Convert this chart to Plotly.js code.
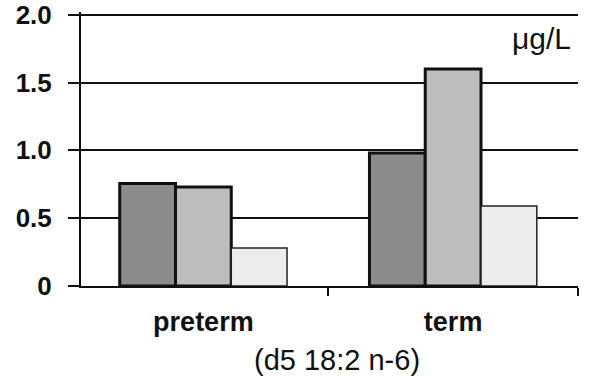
<!DOCTYPE html>
<html>
<head>
<meta charset="utf-8">
<script src="https://cdn.plot.ly/plotly-3.0.1.min.js"></script>
<style>html,body{margin:0;padding:0;background:#fff;}#chart{width:600px;height:377px;}</style>
</head>
<body>
<div id="chart"></div>
<script>
const categories = ["preterm", "term"];
const seriesDark = [0.755, 0.98];
const seriesMid = [0.73, 1.60];
const seriesLight = [0.28, 0.59];
const yTickVals = [0, 0.5, 1.0, 1.5, 2.0];
const yTickText = ["0", "0.5", "1.0", "1.5", "2.0"];
const unitLabel = "μg/L";
const xTitle = "(d5 18:2 n-6)";

const FONT = "Liberation Sans, Arial, sans-serif";

const traces = [
  {type: "bar", x: categories, y: seriesDark, marker: {color: "#8c8c8c", line: {color: "#111", width: 3}}, hoverinfo: "none"},
  {type: "bar", x: categories, y: seriesMid, marker: {color: "#bdbdbd", line: {color: "#111", width: 3}}, hoverinfo: "none"},
  {type: "bar", x: categories, y: seriesLight, marker: {color: "#ececec", line: {color: "#222", width: 1.5}}, hoverinfo: "none"}
];

const layout = {
  width: 600, height: 377,
  margin: {l: 81, r: 22, t: 12, b: 91},
  paper_bgcolor: "#fff", plot_bgcolor: "#fff",
  showlegend: false,
  barmode: "group", bargap: 0.33, bargroupgap: 0,
  font: {family: FONT, color: "#111"},
  xaxis: {
    type: "category", range: [-0.49, 1.5],
    showline: true, linecolor: "#111", linewidth: 2,
    ticks: "outside", tickson: "boundaries", ticklen: 8, tickwidth: 2, tickcolor: "#111",
    ticklabelstandoff: 11,
    tickfont: {family: FONT, size: 27, color: "#111", weight: "bold"},
    showgrid: false, zeroline: false
  },
  yaxis: {
    range: [0, 2.02],
    tickvals: yTickVals, ticktext: yTickText,
    ticklabeloverflow: "allow",
    showline: true, linecolor: "#111", linewidth: 2,
    ticks: "outside", ticklen: 11, tickwidth: 2, tickcolor: "#111",
    ticklabelstandoff: 11,
    tickfont: {family: FONT, size: 26, color: "#111", weight: "bold"},
    showgrid: true, gridcolor: "#111", gridwidth: 2, zeroline: false
  },
  annotations: [
    {text: unitLabel, xref: "paper", yref: "paper", x: 0.99, y: 0.905, xanchor: "right", yanchor: "middle", showarrow: false, font: {family: FONT, size: 30, color: "#111"}},
    {text: xTitle, xref: "paper", yref: "paper", x: 0.515, y: -0.27, xanchor: "center", yanchor: "middle", showarrow: false, font: {family: FONT, size: 29, color: "#111"}}
  ]
};

Plotly.newPlot("chart", traces, layout, {displayModeBar: false, staticPlot: true});
</script>
</body>
</html>
